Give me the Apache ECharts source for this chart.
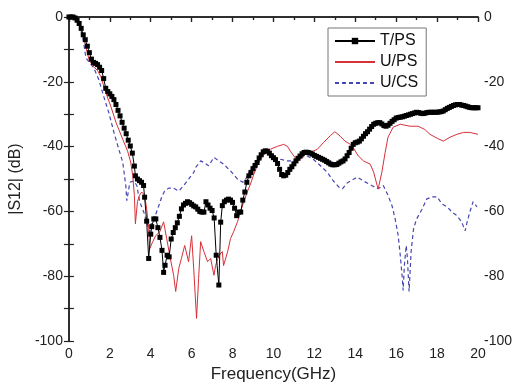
<!DOCTYPE html>
<html><head><meta charset="utf-8">
<script src="https://cdn.jsdelivr.net/npm/echarts@6/dist/echarts.min.js"></script>
<style>html,body{margin:0;padding:0;background:#fff}#c{width:525px;height:388px}</style>
</head><body><div id="c"></div>
<script>
const seriesNames = ['T/PS', 'U/PS', 'U/CS'];
const xTicks = [0, 2, 4, 6, 8, 10, 12, 14, 16, 18, 20];
const yTicks = [0, -20, -40, -60, -80, -100];

const tps = [[0,0],[0.1,0],[0.2,0],[0.3,-0.3],[0.4,-1],[0.5,-2],[0.6,-3.5],[0.7,-5.5],[0.8,-7],[0.9,-9],[1.0,-11],[1.1,-13],[1.2,-14],[1.3,-14.3],[1.4,-14.7],[1.5,-15.5],[1.6,-16.5],[1.7,-19],[1.8,-22],[1.9,-23],[2.0,-23.7],[2.1,-24.5],[2.2,-25.5],[2.3,-27],[2.4,-28.8],[2.5,-30.5],[2.6,-32.5],[2.7,-34.3],[2.8,-36],[2.9,-38],[3.0,-39.8],[3.1,-42],[3.2,-46],[3.25,-49],[3.35,-50],[3.45,-50.5],[3.55,-51],[3.65,-52],[3.7,-55.6],[3.8,-63],[3.9,-74.5],[4.0,-67],[4.05,-64.7],[4.15,-62.3],[4.25,-62.3],[4.35,-65],[4.45,-68],[4.55,-72],[4.63,-78.8],[4.7,-76.6],[4.8,-73.5],[4.9,-74],[5.0,-68.5],[5.1,-66.5],[5.2,-65],[5.3,-63.5],[5.4,-61.5],[5.5,-59.2],[5.6,-58],[5.7,-57.5],[5.8,-57],[5.9,-57.3],[6.0,-57.8],[6.1,-58.3],[6.2,-58.6],[6.3,-59.3],[6.4,-60],[6.5,-60.2],[6.6,-60.2],[6.7,-57],[6.8,-58],[6.9,-59],[7.0,-59.7],[7.1,-62],[7.2,-73.5],[7.33,-82.7],[7.42,-63.3],[7.5,-58.2],[7.6,-57],[7.7,-56.5],[7.8,-56.2],[7.9,-56.5],[8.0,-57.2],[8.1,-59],[8.2,-61.3],[8.3,-60.2],[8.4,-60.2],[8.5,-56.5],[8.6,-54],[8.7,-51],[8.8,-49],[8.9,-48],[9.0,-46.8],[9.1,-45.8],[9.2,-44.9],[9.3,-43.5],[9.4,-42.5],[9.5,-41.6],[9.6,-41.3],[9.7,-41.4],[9.8,-42],[9.9,-42.8],[10.0,-43.4],[10.1,-44],[10.2,-45.2],[10.3,-47],[10.4,-48.6],[10.5,-49],[10.6,-48.8],[10.7,-48],[10.8,-47],[10.9,-46.2],[11.0,-45.3],[11.1,-44.4],[11.2,-43.6],[11.3,-42.9],[11.4,-42.2],[11.5,-41.8],[11.6,-41.7],[11.7,-41.8],[11.8,-42],[11.9,-42.3],[12.0,-42.7],[12.1,-43],[12.2,-43.3],[12.3,-43.6],[12.4,-43.9],[12.5,-44.2],[12.6,-44.6],[12.7,-45],[12.8,-45.4],[12.9,-45.6],[13.0,-45.6],[13.1,-45.5],[13.2,-45.1],[13.3,-44.7],[13.4,-44.4],[13.5,-43.8],[13.6,-42.8],[13.7,-41.8],[13.8,-40.5],[13.9,-39.3],[14.0,-38.8],[14.1,-38.6],[14.2,-38.3],[14.3,-37.6],[14.4,-36.8],[14.5,-36],[14.6,-35.4],[14.7,-34.6],[14.8,-33.8],[14.9,-33.1],[15.0,-32.8],[15.1,-32.6],[15.2,-32.6],[15.3,-33],[15.4,-33.5],[15.5,-33.7],[15.6,-33.4],[15.7,-32.8],[15.8,-32.2],[15.9,-31.7],[16.0,-31.2],[16.1,-31],[16.2,-30.9],[16.3,-30.8],[16.4,-30.6],[16.5,-30.4],[16.6,-30.2],[16.7,-30],[16.8,-29.8],[16.9,-29.6],[17.0,-29.4],[17.1,-29.5],[17.2,-29.7],[17.3,-29.8],[17.4,-29.7],[17.5,-29.5],[17.6,-29.4],[17.7,-29.4],[17.8,-29.4],[17.9,-29.4],[18.0,-29.4],[18.1,-29.3],[18.2,-29.2],[18.3,-29],[18.4,-28.6],[18.5,-28.2],[18.6,-27.9],[18.7,-27.6],[18.8,-27.3],[18.9,-27.1],[19.0,-27],[19.1,-27],[19.2,-27.2],[19.3,-27.3],[19.4,-27.5],[19.5,-27.7],[19.6,-27.9],[19.7,-28],[19.8,-28],[19.9,-28],[20.0,-28]];

const ups = [[0,0],[0.3,-0.3],[0.5,-2],[0.7,-6],[0.9,-11],[1.0,-13.5],[1.2,-15.3],[1.4,-16.5],[1.56,-18.4],[1.8,-23.3],[2.05,-27.6],[2.3,-32.5],[2.63,-37.7],[2.87,-41.4],[3.02,-44.8],[3.12,-49],[3.2,-55],[3.25,-63.8],[3.35,-57],[3.45,-55],[3.56,-54],[3.7,-55],[3.8,-59.2],[3.9,-65.3],[3.95,-71.5],[4.1,-69.3],[4.24,-67.5],[4.44,-66.3],[4.63,-63.2],[4.78,-68.4],[4.93,-73.6],[5.12,-79.7],[5.22,-84.7],[5.37,-77.6],[5.5,-74.5],[5.66,-70.5],[5.85,-75.5],[6.0,-67.5],[6.1,-77.6],[6.24,-93],[6.34,-80.7],[6.44,-69.3],[6.6,-72.4],[6.78,-75.5],[6.93,-74.5],[7.09,-79.7],[7.17,-76.7],[7.33,-73.6],[7.5,-72.4],[7.56,-76.7],[7.76,-72.4],[7.9,-68.4],[8.05,-66.3],[8.24,-63.2],[8.39,-60.2],[8.54,-57.1],[8.72,-54],[8.88,-51.5],[9.04,-48.5],[9.2,-46],[9.37,-43.9],[9.53,-42.4],[9.85,-40.8],[10.2,-39.9],[10.5,-39.3],[10.68,-39.9],[10.83,-41.4],[11.0,-42.9],[11.17,-44.4],[11.3,-43.9],[11.56,-42.4],[11.8,-41.8],[12.15,-40.8],[12.45,-38.7],[12.8,-36.5],[13.0,-35.4],[13.27,-36.8],[13.5,-38.3],[13.76,-39.3],[13.9,-40.3],[14.15,-42.9],[14.4,-44.4],[14.73,-45.4],[14.9,-47.9],[15.07,-52],[15.12,-53],[15.3,-47.9],[15.46,-41.8],[15.6,-37.1],[15.85,-34],[16.2,-33.1],[16.68,-33.7],[17.07,-33.7],[17.4,-34.7],[17.65,-36.2],[18.0,-37.4],[18.3,-38.3],[18.63,-37.1],[18.97,-36.2],[19.3,-35.6],[19.6,-35.6],[20,-36.2]];

const ucs = [[0,0],[0.3,-0.3],[0.5,-2],[0.7,-7],[0.83,-12.6],[1.0,-14],[1.22,-15.8],[1.46,-19.3],[1.7,-24.5],[1.95,-29.5],[2.2,-35.6],[2.44,-40.8],[2.63,-44.8],[2.78,-52],[2.83,-56.7],[2.98,-51],[3.17,-50.6],[3.32,-52],[3.46,-57],[3.66,-60.2],[3.8,-63.2],[3.95,-66.3],[4.05,-62.9],[4.2,-61.7],[4.39,-58.3],[4.54,-55.5],[4.68,-53.7],[4.88,-52.8],[5.12,-52.8],[5.37,-53.7],[5.61,-52],[5.85,-50],[6.1,-48],[6.2,-46.4],[6.44,-44.4],[6.6,-44.9],[6.83,-45.9],[7.09,-43.3],[7.33,-44.4],[7.56,-45.4],[7.9,-47.5],[8.24,-50],[8.5,-51],[8.64,-50],[8.88,-46.9],[9.2,-44.4],[9.46,-42.4],[9.76,-42.4],[10.0,-43.3],[10.34,-43.9],[10.68,-44.4],[11.0,-44.4],[11.3,-43.3],[11.66,-42.9],[11.95,-43.9],[12.3,-45.9],[12.63,-47.9],[12.93,-50.6],[13.2,-52.5],[13.37,-53],[13.6,-51.2],[14.1,-49.4],[14.4,-50.6],[14.8,-52],[15.12,-53],[15.37,-52],[15.6,-55],[15.8,-58.3],[15.95,-62.3],[16.1,-67.5],[16.2,-73.6],[16.3,-80.7],[16.34,-84.4],[16.4,-76.7],[16.49,-70.5],[16.55,-74.5],[16.63,-84.7],[16.73,-72.4],[16.85,-65.3],[17.0,-62.3],[17.27,-59.2],[17.5,-56.1],[17.75,-55.5],[18.0,-55.5],[18.24,-57.7],[18.5,-58.6],[18.73,-60.2],[18.97,-61.3],[19.2,-63.2],[19.37,-66],[19.47,-63.2],[19.6,-60.2],[19.76,-57],[19.95,-58.6]];

const FONT = 'Liberation Sans, Arial, sans-serif';
const chart = echarts.init(document.getElementById('c'), null, {renderer: 'canvas'});
const axLine = {show: true, lineStyle: {color: '#222', width: 1.5}};
const lbl = {fontFamily: FONT, fontSize: 14, color: '#222'};
function xAx(pos, showLabel, inside) {
  return {
    type: 'value', position: pos, min: xTicks[0], max: xTicks[xTicks.length - 1],
    interval: xTicks[1] - xTicks[0],
    axisLine: axLine,
    axisTick: {show: true, inside: inside, length: 5, lineStyle: {color: '#222', width: 1.2}},
    minorTick: {show: true, splitNumber: 2, length: 3, lineStyle: {color: '#222', width: 1.2}},
    axisLabel: Object.assign({show: showLabel, margin: 6}, lbl),
    splitLine: {show: false},
    name: showLabel ? 'Frequency(GHz)' : '', nameLocation: 'middle', nameGap: 24,
    nameTextStyle: {fontFamily: FONT, fontSize: 17, color: '#222'}
  };
}
function yAx(pos, name) {
  return {
    type: 'value', position: pos, min: yTicks[yTicks.length - 1], max: yTicks[0],
    interval: 20,
    axisLine: axLine,
    axisTick: {show: true, inside: false, length: 5, lineStyle: {color: '#222', width: 1.2}},
    minorTick: {show: true, splitNumber: 2, length: 5, lineStyle: {color: '#222', width: 1.2}},
    axisLabel: Object.assign({show: true, margin: 6}, lbl),
    splitLine: {show: false},
    name: name, nameLocation: 'middle', nameGap: 41, nameRotate: 90,
    nameTextStyle: {fontFamily: FONT, fontSize: 16, color: '#222'}
  };
}
chart.setOption({
  animation: false,
  backgroundColor: '#fff',
  grid: {left: 68, right: 47, top: 17, bottom: 45, containLabel: false},
  legend: {
    orient: 'vertical', left: 328, top: 28, padding: [5, 8, 5, 6], itemGap: 5,
    itemWidth: 40, itemHeight: 8,
    borderColor: '#777', borderWidth: 1, backgroundColor: '#fff',
    textStyle: {fontFamily: FONT, fontSize: 16, color: '#111'},
    data: [
      {name: seriesNames[0]},
      {name: seriesNames[1], itemStyle: {opacity: 0}},
      {name: seriesNames[2], itemStyle: {opacity: 0}}
    ]
  },
  xAxis: [xAx('bottom', true, false), xAx('top', false, true)],
  yAxis: [yAx('left', '|S12| (dB)'), yAx('right', '')],
  series: [
    {name: seriesNames[0], type: 'line', data: tps, xAxisIndex: 0, yAxisIndex: 0,
     symbol: 'rect', symbolSize: 5, showAllSymbol: true, z: 4,
     itemStyle: {color: '#000'}, lineStyle: {color: '#000', width: 1}},
    {name: seriesNames[1], type: 'line', data: ups, xAxisIndex: 0, yAxisIndex: 0,
     symbol: 'none', z: 3, itemStyle: {color: '#d6303a'}, lineStyle: {color: '#d6303a', width: 1}},
    {name: seriesNames[2], type: 'line', data: ucs, xAxisIndex: 0, yAxisIndex: 0,
     symbol: 'none', z: 2, itemStyle: {color: '#4646b4'}, lineStyle: {color: '#4646b4', width: 1.2, type: [4, 3]}}
  ]
});
</script></body></html>
